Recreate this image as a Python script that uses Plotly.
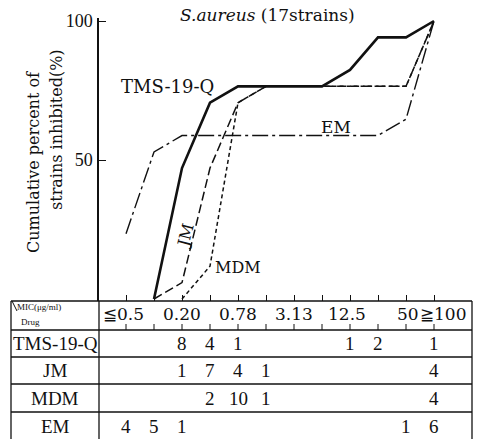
import plotly.graph_objects as go

W, H = 481, 439


def px(x):
    return x / W


def py(y):
    return 1 - y / H


# ---------------- data ----------------
categories = ["≦0.05", "0.10", "0.20", "0.39", "0.78", "1.56",
              "3.13", "6.25", "12.5", "25", "50", "≧100"]
header_labels = ["≦0.5", "", "0.20", "", "0.78", "", "3.13", "", "12.5", "", "50", "≧100"]
drugs = ["TMS-19-Q", "JM", "MDM", "EM"]

tms_counts = [None, None, 8, 4, 1, None, None, None, 1, 2, None, 1]
jm_counts = [None, None, 1, 7, 4, 1, None, None, None, None, None, 4]
mdm_counts = [None, None, None, 2, 10, 1, None, None, None, None, None, 4]
em_counts = [4, 5, 1, None, None, None, None, None, None, None, 1, 6]

tms_pct = [None, 0, 47.1, 70.6, 76.5, 76.5, 76.5, 76.5, 82.4, 94.1, 94.1, 100]
jm_pct = [None, 0, 5.9, 47.1, 70.6, 76.5, 76.5, 76.5, 76.5, 76.5, 76.5, 100]
mdm_pct = [None, None, 0, 11.8, 70.6, 76.5, 76.5, 76.5, 76.5, 76.5, 76.5, 100]
em_pct = [23.5, 52.9, 58.8, 58.8, 58.8, 58.8, 58.8, 58.8, 58.8, 58.8, 64.7, 100]

xi = list(range(len(categories)))

SERIF = "Liberation Serif"
DSERIF = "DejaVu Serif"
INK = "#111111"

fig = go.Figure()
fig.add_trace(go.Scatter(x=xi, y=em_pct, mode="lines", name="EM",
                         line=dict(color=INK, width=1.4, dash="16px,4px,3px,4px")))
fig.add_trace(go.Scatter(x=xi, y=mdm_pct, mode="lines", name="MDM",
                         line=dict(color=INK, width=1.5, dash="4px,3px")))
fig.add_trace(go.Scatter(x=xi, y=jm_pct, mode="lines", name="JM",
                         line=dict(color=INK, width=1.5, dash="9px,4px")))
fig.add_trace(go.Scatter(x=xi, y=tms_pct, mode="lines", name="TMS-19-Q",
                         line=dict(color=INK, width=2.6)))

# axis geometry: category i at pixel 126 + 28 i ; y 0 -> px 299, 100 -> px 21
x_lo = (99 - 126) / 28
x_hi = (472 - 126) / 28
y_lo = (299 - 301) / 2.78
y_hi = 100 + (21 - 18) / 2.78

fig.update_layout(
    width=W, height=H,
    margin=dict(l=0, r=0, t=0, b=0),
    paper_bgcolor="white", plot_bgcolor="white",
    showlegend=False,
    xaxis=dict(domain=[px(99), px(472)], range=[x_lo, x_hi], automargin=False,
               tickvals=xi, ticks="inside", ticklen=6, tickwidth=1, tickcolor=INK,
               showticklabels=False, showline=False, showgrid=False, zeroline=False),
    yaxis=dict(domain=[py(301), py(18)], range=[y_lo, y_hi], automargin=False,
               tickvals=[50, 100], ticktext=["50", "100"],
               ticks="inside", ticklen=7, tickwidth=1.2, tickcolor=INK,
               showline=True, linecolor=INK, linewidth=1.5,
               showgrid=False, zeroline=False, ticklabelstandoff=1,
               tickfont=dict(family=SERIF, size=18, color=INK)),
)

shapes = []
L, R, SEP = 11, 472, 99
row_lines = [301, 330, 357, 384, 412]
for yy in row_lines:
    shapes.append(dict(type="line", xref="paper", yref="paper",
                       x0=px(L), x1=px(R), y0=py(yy), y1=py(yy),
                       line=dict(color=INK, width=1.3)))
for xx in (L, SEP, R):
    shapes.append(dict(type="line", xref="paper", yref="paper",
                       x0=px(xx), x1=px(xx), y0=py(301), y1=py(439),
                       line=dict(color=INK, width=1.3)))
# small diagonal mark in header cell
shapes.append(dict(type="line", xref="paper", yref="paper",
                   x0=px(12), x1=px(17), y0=py(301), y1=py(311),
                   line=dict(color=INK, width=1)))
# ticks on header bottom line
for i in xi:
    shapes.append(dict(type="line", xref="x", yref="paper",
                       x0=i, x1=i, y0=py(330), y1=py(324),
                       line=dict(color=INK, width=1)))
fig.update_layout(shapes=shapes)

ann = []


def add(x, y, text, size, family=DSERIF, xref="paper", xanchor="center", **kw):
    ann.append(dict(x=x, y=py(y), xref=xref, yref="paper", showarrow=False,
                    xanchor=xanchor, yanchor="middle", text=text,
                    font=dict(family=family, size=size, color=INK), **kw))


# title
add(px(267), 15, "<i>S.aureus</i> (17strains)", 17)
# y-axis title
add(px(33), 162, "Cumulative percent of", 16, textangle=-90)
add(px(57), 130, "strains inhibited(%)", 16, textangle=-90)
# series labels
add(px(167), 86, drugs[0], 18)
add(px(336), 127, drugs[3], 17)
add(px(238), 267, drugs[2], 16)
add(px(185), 236, drugs[1], 16, textangle=-75)

# header labels
shift = {0: -3, 8: -3, 10: 2, 11: 9}
for i, lab in enumerate(header_labels):
    if lab:
        add(i, 314, lab, 17, xref="x", xshift=shift.get(i, 0))
add(px(15), 307, "MIC(μg/ml)", 9, family=SERIF, xanchor="left")
add(px(19), 322, "Drug", 9, family=SERIF, xanchor="left")

row_y = [343, 370, 398, 426]
all_counts = [tms_counts, jm_counts, mdm_counts, em_counts]
for d, yy, cnt in zip(drugs, row_y, all_counts):
    add(px(55), yy, d, 19, family=SERIF)
    for i, c in enumerate(cnt):
        if c is not None:
            add(i, yy, str(c), 19, family=SERIF, xref="x")
fig.update_layout(annotations=ann)

fig.write_html("out.html", config={"displayModeBar": False},
               post_script="document.body.style.margin='0';document.body.style.overflow='hidden';")
